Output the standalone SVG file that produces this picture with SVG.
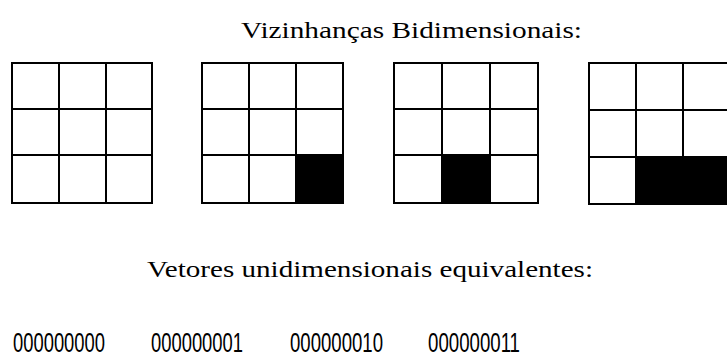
<svg xmlns="http://www.w3.org/2000/svg" width="727" height="358" viewBox="0 0 727 358">
<style>
.cell{fill:#fff;stroke:#000;stroke-width:2}
.on{fill:#000;stroke:#000;stroke-width:2}
.t{font-family:"Liberation Serif",serif;font-size:23px;fill:#000}
.d{font-family:"Liberation Sans",sans-serif;font-size:28px;fill:#000}
</style>
<rect width="727" height="358" fill="#fff"/>
<text class="t" x="241" y="38" textLength="341" lengthAdjust="spacingAndGlyphs">Vizinhanças Bidimensionais:</text>
<g id="grid1">
<rect class="cell" x="12" y="63" width="47" height="46"/><rect class="cell" x="59" y="63" width="47" height="46"/><rect class="cell" x="106" y="63" width="46" height="46"/>
<rect class="cell" x="12" y="109" width="47" height="46"/><rect class="cell" x="59" y="109" width="47" height="46"/><rect class="cell" x="106" y="109" width="46" height="46"/>
<rect class="cell" x="12" y="155" width="47" height="48"/><rect class="cell" x="59" y="155" width="47" height="48"/><rect class="cell" x="106" y="155" width="46" height="48"/>
</g>
<g id="grid2">
<rect class="cell" x="202" y="63" width="47" height="46"/><rect class="cell" x="249" y="63" width="47" height="46"/><rect class="cell" x="296" y="63" width="47" height="46"/>
<rect class="cell" x="202" y="109" width="47" height="46"/><rect class="cell" x="249" y="109" width="47" height="46"/><rect class="cell" x="296" y="109" width="47" height="46"/>
<rect class="cell" x="202" y="155" width="47" height="48"/><rect class="cell" x="249" y="155" width="47" height="48"/><rect class="on" x="296" y="155" width="47" height="48"/>
</g>
<g id="grid3">
<rect class="cell" x="394" y="63" width="48" height="46"/><rect class="cell" x="442" y="63" width="48" height="46"/><rect class="cell" x="490" y="63" width="48" height="46"/>
<rect class="cell" x="394" y="109" width="48" height="46"/><rect class="cell" x="442" y="109" width="48" height="46"/><rect class="cell" x="490" y="109" width="48" height="46"/>
<rect class="cell" x="394" y="155" width="48" height="48"/><rect class="on" x="442" y="155" width="48" height="48"/><rect class="cell" x="490" y="155" width="48" height="48"/>
</g>
<g id="grid4">
<rect class="cell" x="589" y="63" width="47" height="47"/><rect class="cell" x="636" y="63" width="47" height="47"/><rect class="cell" x="683" y="63" width="48" height="47"/>
<rect class="cell" x="589" y="110" width="47" height="47"/><rect class="cell" x="636" y="110" width="47" height="47"/><rect class="cell" x="683" y="110" width="48" height="47"/>
<rect class="cell" x="589" y="157" width="47" height="47"/><rect class="on" x="636" y="157" width="47" height="47"/><rect class="on" x="683" y="157" width="48" height="47"/>
</g>
<text class="t" x="147" y="277" textLength="446" lengthAdjust="spacingAndGlyphs">Vetores unidimensionais equivalentes:</text>
<text class="d" x="13" y="352" textLength="92" lengthAdjust="spacingAndGlyphs">000000000</text>
<text class="d" x="151" y="352" textLength="92" lengthAdjust="spacingAndGlyphs">000000001</text>
<text class="d" x="290" y="352" textLength="93" lengthAdjust="spacingAndGlyphs">000000010</text>
<text class="d" x="428" y="352" textLength="92" lengthAdjust="spacingAndGlyphs">000000011</text>
</svg>
